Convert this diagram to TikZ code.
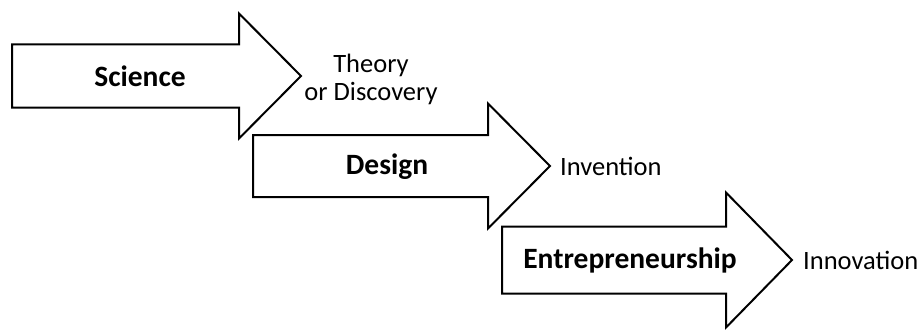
\documentclass[tikz,border=0pt]{standalone}
\usepackage{fontspec}
\setmainfont{Carlito}
\usetikzlibrary{positioning}

\begin{document}
\begin{tikzpicture}[
        x=1pt, y=-1pt,
        flow/.style={draw, line width=2pt, line join=miter, fill=white},
        stage/.style={font=\fontsize{29.5}{34}\selectfont\bfseries},
        result/.style={font=\fontsize{26.5}{31}\selectfont, align=center, inner sep=0pt}
    ]
    \useasboundingbox (0,0) rectangle (920,329);

    % Arrows
    \draw[flow] (12,44.5) -- (239,44.5) -- (239,13.5) -- (301,76) coordinate (scitip)
        -- (239,138.5) -- (239,107.5) -- (12,107.5) -- cycle;
    \draw[flow] (253,135) -- (488,135) -- (488,103.5) -- (550,166) coordinate (destip)
        -- (488,228.5) -- (488,197) -- (253,197) -- cycle;
    \draw[flow] (502,226.5) -- (726,226.5) -- (726,192.5) -- (792,260) coordinate (enttip)
        -- (726,327.5) -- (726,293.5) -- (502,293.5) -- cycle;

    % Stage names
    \node[stage] (scitext) at (140,76) {Science};
    \node[stage] (destext) at (387,167) {Design};
    \node[stage] (enttext) at (630,260) {Entrepreneurship};

    % Outcomes
    \node[result] (theory) at (371,79) {Theory\\[-3pt]or Discovery};
    \node[result, right=10pt of destip] (invention) {Invention};
    \node[result, right=11pt of enttip] (innovation) {Innovation};

\end{tikzpicture}
\end{document}
